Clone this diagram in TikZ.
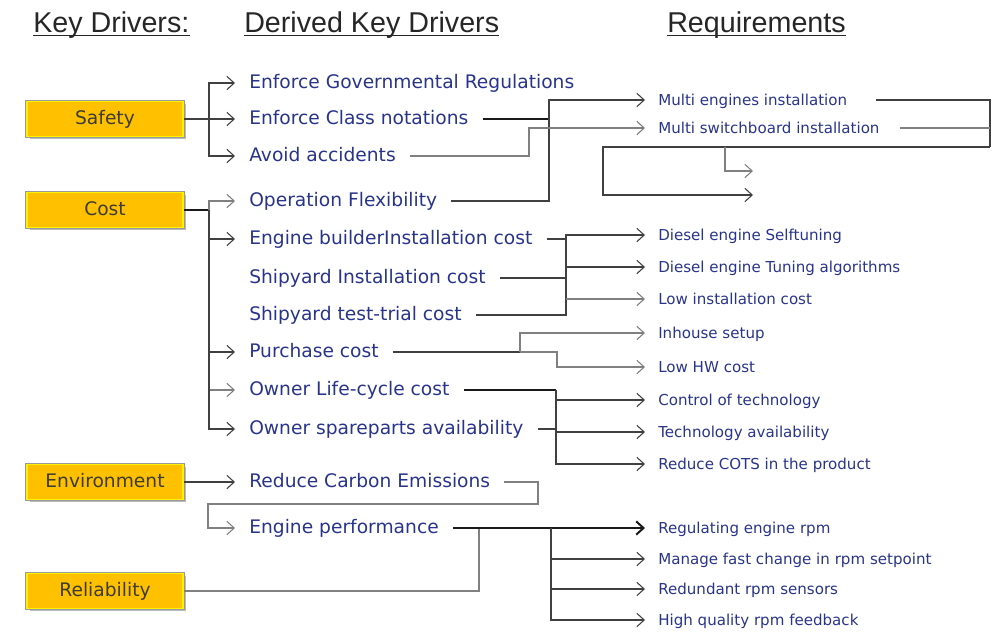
\documentclass[tikz,border=0pt]{standalone}
\usepackage{fontspec}
\setmainfont{DejaVu Sans}
\newfontfamily\hdrfont{Liberation Sans}
\usetikzlibrary{arrows.meta,shadows,calc}
\definecolor{txtblue}{RGB}{40,52,140}
\definecolor{boxorange}{RGB}{255,192,0}
\definecolor{boxtext}{RGB}{60,60,50}
\begin{document}
\begin{tikzpicture}[x=0.75pt,y=-0.75pt,
 kbox/.style={rectangle, drop shadow={shadow xshift=2pt,shadow yshift=-2pt,opacity=0.45,fill=black!60},
   preaction={draw=black!40,line width=2.6pt}, fill=boxorange, draw=yellow, line width=1.2pt,
   minimum width=117pt, minimum height=26pt, inner sep=0pt, text height=0.86em, text depth=0pt,
   font=\fontsize{14}{16}\selectfont, text=boxtext},
 dk/.style={anchor=west, text=txtblue, font=\fontsize{14}{16}\selectfont,
   inner xsep=10.5pt, inner ysep=0pt, text height=0.86em, text depth=0pt},
 rq/.style={anchor=west, text=txtblue, font=\fontsize{11.3}{13}\selectfont,
   inner xsep=9.75pt, inner ysep=0pt, text height=0.8em, text depth=0pt},
 hd/.style={anchor=base west, inner sep=0pt, font=\hdrfont\fontsize{21.5}{24}\selectfont, text=black!85},
 ln/.style={draw=black!75, line width=0.8pt},
 lt/.style={draw=black!50, line width=0.8pt},
 hv/.style={draw=black!90, line width=1.5pt},
 arr/.style={-{Straight Barb[length=5.5pt,width=10pt]}},
]
\useasboundingbox (0,0) rectangle (1001,636);

% headers
\node[hd] (h1) at (33,32) {Key Drivers:};
\node[hd] (h2) at (244,32) {Derived Key Drivers};
\node[hd] (h3) at (667,32) {Requirements};
\foreach \h in {h1,h2,h3}
  \draw[black!85, line width=1.3pt] ([yshift=-2.6pt]\h.base west) -- ([yshift=-2.6pt]\h.base east);

% key drivers
\node[kbox] (S) at (105,119) {Safety};
\node[kbox] (C) at (105,210) {Cost};
\node[kbox] (E) at (105,482) {Environment};
\node[kbox] (R) at (105,591) {Reliability};

% derived key drivers
\node[dk] (d1) at (235,83) {Enforce Governmental Regulations};
\node[dk] (d2) at (235,119) {Enforce Class notations};
\node[dk] (d3) at (235,156) {Avoid accidents};
\node[dk] (d4) at (235,201) {Operation Flexibility};
\node[dk] (d5) at (235,239) {Engine builderInstallation cost};
\node[dk] (d6) at (235,278) {Shipyard Installation cost};
\node[dk] (d7) at (235,315) {Shipyard test-trial cost};
\node[dk] (d8) at (235,352) {Purchase cost};
\node[dk] (d9) at (235,390) {Owner Life-cycle cost};
\node[dk] (d10) at (235,429) {Owner spareparts availability};
\node[dk] (d11) at (235,482) {Reduce Carbon Emissions};
\node[dk] (d12) at (235,528) {Engine performance};

% requirements
\node[rq] (r1) at (645,100) {Multi engines installation};
\node[rq] (r2) at (645,128) {Multi switchboard installation};
\node[rq] (r3) at (645,235) {Diesel engine Selftuning};
\node[rq] (r4) at (645,267) {Diesel engine Tuning algorithms};
\node[rq] (r5) at (645,299) {Low installation cost};
\node[rq] (r6) at (645,333) {Inhouse setup};
\node[rq] (r7) at (645,367) {Low HW cost};
\node[rq] (r8) at (645,400) {Control of technology};
\node[rq] (r9) at (645,432) {Technology availability};
\node[rq] (r10) at (645,464) {Reduce COTS in the product};
\node[rq] (q1) at (645,528) {Regulating engine rpm};
\node[rq] (q2) at (645,559) {Manage fast change in rpm setpoint};
\node[rq] (q3) at (645,589) {Redundant rpm sensors};
\node[rq] (q4) at (645,620) {High quality rpm feedback};

% junctions and free ends
\coordinate (jS) at (209,119);
\coordinate (jC) at (209,210);
\coordinate (jM) at (549,100);
\coordinate (jA) at (529,128);
\coordinate (jB) at (990,147);
\coordinate (jB2) at (725,147);
\coordinate (f1) at (753,171);
\coordinate (f2) at (753,195);
\coordinate (jK) at (566,235);
\coordinate (jK2) at (566,267);
\coordinate (jK3) at (566,299);
\coordinate (jP) at (520,352);
\coordinate (jL) at (556,390);
\coordinate (jL2) at (556,400);
\coordinate (jL3) at (556,432);
\coordinate (jR) at (479,528);
\coordinate (jE) at (551,528);

% Safety
\draw[ln,arr] (S.east) -- (d2.west);
\draw[ln,arr] (jS) |- (d1.west);
\draw[ln,arr] (jS) |- (d3.west);

% Cost
\draw[hv] (C.east) -- (jC);
\draw[lt,arr] (jC) |- (d4.west);
\draw[ln,arr] (jC) |- (d5.west);
\draw[ln,arr] (jC) |- (d8.west);
\draw[lt,arr] (jC) |- (d9.west);
\draw[ln,arr] (jC) |- (d10.west);

% Environment
\draw[ln,arr] (E.east) -- (d11.west);
\draw[lt,arr] (d11.east) -| (538,504) -| (208,528) -- (d12.west);

% Reliability
\draw[lt] (R.east) -| (jR);

% Engine performance
\draw[hv,arr] (d12.east) -- (q1.west);
\draw[ln,arr] (jE) |- (q2.west);
\draw[ln,arr] (jE) |- (q3.west);
\draw[ln,arr] (jE) |- (q4.west);

% multi installation group
\draw[hv] (d2.east) -- (549,119);
\draw[ln,arr] (d4.east) -| (jM) -- (r1.west);
\draw[lt,arr] (d3.east) -| (jA) -- (r2.west);
\draw[ln] ($(r1.east)+(16,0)$) -| (jB);
\draw[lt] ($(r2.east)+(7,0)$) -- (990,128);
\draw[ln,arr] (jB) -| (603,195) -- (f2);
\draw[lt,arr] (jB2) |- (f1);

% installation cost group
\draw[ln] (d5.east) -- (566,239);
\draw[ln] (d6.east) -- (566,278);
\draw[ln,arr] (d7.east) -| (jK) -- (r3.west);
\draw[ln,arr] (jK2) -- (r4.west);
\draw[lt,arr] (jK3) -- (r5.west);

% purchase
\draw[ln] (d8.east) -- (jP);
\draw[lt,arr] (jP) |- (r6.west);
\draw[lt,arr] (jP) -| (557,367) -- (r7.west);

% life-cycle
\draw[hv] (d9.east) -- (jL);
\draw[ln,arr] (jL) |- (r10.west);
\draw[ln,arr] (jL2) -- (r8.west);
\draw[ln,arr] (jL3) -- (r9.west);
\draw[ln] (d10.east) -- (556,429);
\end{tikzpicture}
\end{document}
